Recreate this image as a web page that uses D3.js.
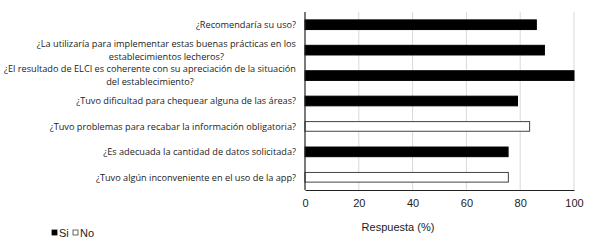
<!DOCTYPE html>
<html lang="es">
<head>
<meta charset="UTF-8">
<script src="https://d3js.org/d3.v7.min.js"></script>
<style>
    body { margin: 0; background: #fff; }
    svg { display: block; }
    .label { font-family: "Open Sans", sans-serif; font-size: 9.5px; fill: #222; }
    .tick-label { font-family: "Liberation Sans", Arial, sans-serif; font-size: 11px; fill: #222; }
</style>
</head>
<body>
<div id="chart"></div>
<script>
// preguntas, de arriba hacia abajo
const questions = [
    ["¿Recomendaría su uso?"],
    ["¿La utilizaría para implementar estas buenas prácticas en los", "establecimientos lecheros?"],
    ["¿El resultado de ELCI es coherente con su apreciación de la situación", "del establecimiento?"],
    ["¿Tuvo dificultad para chequear alguna de las áreas?"],
    ["¿Tuvo problemas para recabar la información obligatoria?"],
    ["¿Es adecuada la cantidad de datos solicitada?"],
    ["¿Tuvo algún inconveniente en el uso de la app?"]
];
const answers = ["Si", "Si", "Si", "Si", "No", "Si", "No"];
const values = [86, 89, 100, 79, 83.5, 75.5, 75.6];
const xTicks = [0, 20, 40, 60, 80, 100];
const legendKeys = ["Si", "No"];

const width = 600, height = 247;
const margin = { left: 305, right: 26, top: 12, bottom: 57 };

const svg = d3.select("#chart").append("svg")
    .attr("width", width)
    .attr("height", height);

const x = d3.scaleLinear().domain([0, 100]).range([margin.left, width - margin.right]);
const y = d3.scaleBand().domain(d3.range(questions.length))
    .range([margin.top, height - margin.bottom])
    .paddingInner(0.62).paddingOuter(0.31);

const fill = d3.scaleOrdinal().domain(legendKeys).range(["#000", "#fff"]);

// grid
svg.append("g")
    .selectAll("line")
    .data(xTicks.slice(1))
    .join("line")
    .attr("x1", d => x(d)).attr("x2", d => x(d))
    .attr("y1", margin.top).attr("y2", height - margin.bottom)
    .attr("stroke", "#d9d9d9").attr("stroke-width", 1);

// bars
svg.append("g")
    .selectAll("rect")
    .data(values)
    .join("rect")
    .attr("x", x(0))
    .attr("y", (d, i) => y(i))
    .attr("width", d => x(d) - x(0))
    .attr("height", y.bandwidth())
    .attr("fill", (d, i) => fill(answers[i]))
    .attr("stroke", (d, i) => answers[i] === "No" ? "#444" : "#000")
    .attr("stroke-width", 1);

// axes
const xAxis = svg.append("g")
    .attr("transform", `translate(0,${height - margin.bottom})`)
    .call(d3.axisBottom(x).tickValues(xTicks).tickSize(0).tickPadding(9));
xAxis.select(".domain").attr("stroke", "#222").attr("stroke-width", 1.2);
xAxis.selectAll("text").attr("class", "tick-label").attr("font-family", null).attr("font-size", null);

svg.append("line")
    .attr("x1", x(0)).attr("x2", x(0))
    .attr("y1", margin.top).attr("y2", height - margin.bottom)
    .attr("stroke", "#222").attr("stroke-width", 1.2);

// question labels: no hay fuente estrecha, se comprime el texto al ancho del original
const labelRight = 296;
const lineH = 13;
const widestLine = 292;
const groups = questions.map(lines => {
    const g = svg.append("g");
    const texts = lines.map(t => g.append("text").attr("class", "label").text(t));
    return texts;
});
const maxAll = d3.max(groups.flat(), t => t.node().getComputedTextLength());
const squeeze = widestLine / maxAll;

groups.forEach((texts, i) => {
    const widths = texts.map(t => t.node().getComputedTextLength() * squeeze);
    const maxW = d3.max(widths);
    const cy = y(i) + y.bandwidth() / 2;
    const y0 = cy - (texts.length - 1) * lineH / 2;
    texts.forEach((t, j) => {
        t.attr("x", labelRight - maxW / 2)
            .attr("y", y0 + j * lineH)
            .attr("dy", "0.35em")
            .attr("text-anchor", "middle")
            .attr("textLength", widths[j])
            .attr("lengthAdjust", "spacingAndGlyphs");
    });
});

// axis title
svg.append("text")
    .attr("class", "tick-label")
    .attr("x", 398).attr("y", 227)
    .attr("dy", "0.35em")
    .attr("text-anchor", "middle")
    .text("Respuesta (%)");

// legend
const legend = svg.append("g").attr("transform", "translate(52,233)");
const item = legend.selectAll("g")
    .data(legendKeys)
    .join("g")
    .attr("transform", (d, i) => `translate(${i * 21},0)`);
item.append("rect")
    .attr("x", 0).attr("y", -3)
    .attr("width", 5).attr("height", 5)
    .attr("fill", d => fill(d))
    .attr("stroke", d => d === "No" ? "#444" : "#000")
    .attr("stroke-width", 0.8);
item.append("text")
    .attr("class", "tick-label")
    .attr("x", 7).attr("y", 0)
    .attr("dy", "0.35em")
    .text(d => d);
</script>
</body>
</html>
